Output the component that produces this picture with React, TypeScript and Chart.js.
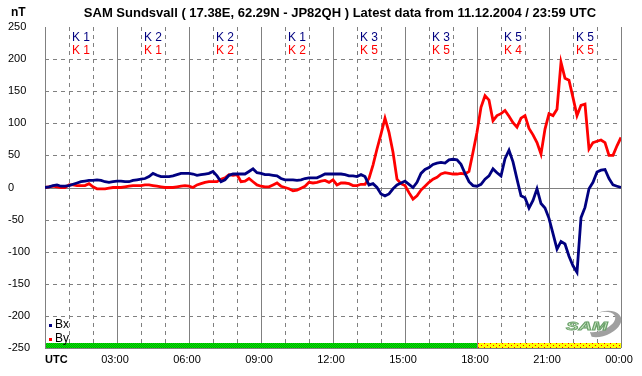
import React, { useEffect, useRef } from 'react';
import { Chart, registerables } from 'chart.js';

Chart.register(...registerables);

const TITLE = 'SAM Sundsvall ( 17.38E, 62.29N - JP82QH ) Latest data from 11.12.2004 / 23:59 UTC';
const Y_UNIT = 'nT';
const Y_MIN = -250;
const Y_MAX = 250;
const Y_STEP = 50;
const X_TICK_HOURS = [0, 3, 6, 9, 12, 15, 18, 21, 24];
const X_TICK_LABELS = ['UTC', '03:00', '06:00', '09:00', '12:00', '15:00', '18:00', '21:00', '00:00'];
const K_BX = ['K 1', 'K 2', 'K 2', 'K 1', 'K 3', 'K 3', 'K 5', 'K 5'];
const K_BY = ['K 1', 'K 1', 'K 2', 'K 2', 'K 5', 'K 5', 'K 4', 'K 5'];
const STATUS_START = [0, 18];
const STATUS_END = [18, 24];
const STATUS_KIND = ['final', 'preliminary'];
const SERIES_NAMES = ['Bx', 'By'];
const STEP_MINUTES = 10;

const BX = [
  0, 1, 3, 4, 2, 2, 3, 5, 7, 9,
  10, 11, 11, 12, 11, 9, 8, 9, 10, 10,
  9, 9, 11, 12, 13, 14, 17, 22, 19, 17,
  17, 17, 18, 20, 22, 22, 22, 21, 19, 20,
  21, 22, 25, 18, 9, 12, 19, 21, 21, 21,
  21, 25, 29, 23, 22, 20, 20, 19, 18, 14,
  12, 12, 12, 11, 12, 14, 15, 15, 15, 18,
  21, 21, 21, 21, 21, 20, 18, 18, 17, 20,
  17, 4, 6, 0, -10, -13, -10, -2, 4, 7,
  10, 5, 0, 8, 22, 28, 31, 36, 38, 39,
  38, 43, 44, 43, 36, 22, 9, 3, 2, 5,
  13, 18, 29, 23, 18, 45, 58, 40, 13, -13,
  -16, -32, -20, -2, -25, -32, -48, -72, -96, -84,
  -88, -107, -122, -132, -47, -31, -2, 8, 24, 27,
  28, 14, 4, 2, 0,
];

const BY = [
  0, 1, 2, 1, 0, 0, 4, 4, 3, 3,
  3, 6, 1, -2, -2, -2, -1, 0, 0, 0,
  1, 2, 3, 3, 3, 4, 4, 3, 2, 1,
  0, 0, 0, 1, 2, 3, 2, 0, 4, 6,
  8, 9, 9, 9, 13, 15, 20, 19, 20, 9,
  10, 14, 9, 4, 2, 1, 1, 4, 7, 2,
  0, -2, -5, -4, -1, 2, 8, 7, 8, 10,
  11, 8, 12, 4, 7, 7, 6, 3, 3, 5,
  5, 14, 35, 60, 83, 108, 86, 55, 13, 6,
  3, -8, -18, -13, -4, 2, 8, 13, 16, 21,
  23, 22, 21, 21, 22, 21, 25, 55, 86, 125,
  143, 136, 104, 112, 115, 120, 111, 101, 94, 108,
  112, 92, 82, 70, 52, 91, 115, 112, 122, 195,
  170, 167, 140, 112, 128, 130, 60, 70, 72, 74,
  70, 50, 50, 65, 78,
];

const COLORS = ['#000080', '#ff0000'];
const FONT = '"Liberation Sans", Arial, sans-serif';

function makePattern(ctx: CanvasRenderingContext2D, kind: string) {
  const c = document.createElement('canvas');
  if (kind === 'final') {
    c.width = 2; c.height = 2;
    const p = c.getContext('2d')!;
    p.fillStyle = '#00f000'; p.fillRect(0, 0, 2, 2);
    p.fillStyle = '#00a000'; p.fillRect(0, 0, 1, 1); p.fillRect(1, 1, 1, 1);
  } else {
    c.width = 6; c.height = 4;
    const p = c.getContext('2d')!;
    p.fillStyle = '#ffff00'; p.fillRect(0, 0, 6, 4);
    p.fillStyle = '#ff0000'; p.fillRect(1, 1, 1, 1); p.fillRect(4, 3, 1, 1);
  }
  return ctx.createPattern(c, 'repeat')!;
}

const overlay = {
  id: 'overlay',
  beforeDatasetsDraw(chart: any) {
    const { ctx, chartArea: a, scales } = chart;
    const x = scales.x; const y = scales.y;
    ctx.save();
    ctx.strokeStyle = '#808080';
    ctx.lineWidth = 1;
    for (let h = 0; h <= 24; h++) {
      const px = Math.round(x.getPixelForValue(h)) + 0.5;
      ctx.setLineDash(h % 3 === 0 ? [] : [4, 4]);
      ctx.beginPath(); ctx.moveTo(px, a.top); ctx.lineTo(px, a.bottom); ctx.stroke();
    }
    for (let v = Y_MIN; v < Y_MAX; v += Y_STEP) {
      const py = Math.round(y.getPixelForValue(v)) + 0.5;
      ctx.setLineDash(v === 0 || v === Y_MIN ? [] : [4, 4]);
      ctx.beginPath(); ctx.moveTo(a.left, py); ctx.lineTo(a.right, py); ctx.stroke();
    }
    ctx.restore();
  },
  afterDatasetsDraw(chart: any) {
    const { ctx, chartArea: a, scales } = chart;
    const x = scales.x; const y = scales.y;
    ctx.save();
    // status bar
    const yb = Math.round(y.getPixelForValue(Y_MIN));
    for (let i = 0; i < STATUS_START.length; i++) {
      const x0 = Math.round(x.getPixelForValue(STATUS_START[i])) + 1;
      const x1 = Math.round(x.getPixelForValue(STATUS_END[i]));
      ctx.fillStyle = makePattern(ctx, STATUS_KIND[i]);
      ctx.fillRect(x0, yb - 5, x1 - x0, 5);
    }
    // K indices
    ctx.font = `12px ${FONT}`;
    ctx.textAlign = 'center';
    ctx.textBaseline = 'middle';
    for (let i = 0; i < K_BX.length; i++) {
      const cx = x.getPixelForValue(i * 3 + 1.5);
      ctx.fillStyle = COLORS[0];
      ctx.fillText(K_BX[i], cx, a.top + 11);
      ctx.fillStyle = COLORS[1];
      ctx.fillText(K_BY[i], cx, a.top + 24);
    }
    // legend
    ctx.font = `12px ${FONT}`;
    ctx.textAlign = 'left';
    for (let i = 0; i < SERIES_NAMES.length; i++) {
      const ly = yb - 23 + i * 14;
      ctx.fillStyle = COLORS[i];
      ctx.fillRect(a.left + 4, ly - 1, 3, 3);
      ctx.fillStyle = '#000';
      ctx.fillText(SERIES_NAMES[i], a.left + 10, ly);
    }
    // logo
    const lx = a.right - 55; const ly = yb - 25;
    ctx.fillStyle = '#a0a0a0';
    ctx.beginPath();
    ctx.ellipse(lx + 36, ly + 1, 20, 12, -0.35, Math.PI * 1.55, Math.PI * 0.75, false);
    ctx.ellipse(lx + 33, ly - 1, 17, 9, -0.35, Math.PI * 0.75, Math.PI * 1.55, true);
    ctx.closePath();
    ctx.fill();
    ctx.save();
    ctx.translate(lx, ly + 4);
    ctx.scale(1.7, 1);
    ctx.font = `italic bold 11px ${FONT}`;
    ctx.lineWidth = 0.8;
    ctx.strokeStyle = '#6aa06a';
    ctx.fillStyle = '#d0ecc8';
    ctx.fillText('SAM', 0, 0);
    ctx.strokeText('SAM', 0, 0);
    ctx.restore();
    ctx.restore();
  },
  afterDraw(chart: any) {
    const { ctx, chartArea: a, scales } = chart;
    const x = scales.x;
    ctx.save();
    ctx.fillStyle = '#000';
    ctx.textBaseline = 'middle';
    ctx.font = `bold 13px ${FONT}`;
    ctx.textAlign = 'center';
    ctx.fillText(TITLE, 340, 13);
    ctx.font = `bold 12px ${FONT}`;
    ctx.textAlign = 'left';
    ctx.fillText(Y_UNIT, 11, 13);
    for (let i = 0; i < X_TICK_HOURS.length; i++) {
      const px = x.getPixelForValue(X_TICK_HOURS[i]);
      if (i === 0) {
        ctx.font = `bold 11px ${FONT}`;
        ctx.textAlign = 'left';
        ctx.fillText(X_TICK_LABELS[i], a.left, a.bottom + 12);
      } else {
        ctx.font = `11px ${FONT}`;
        ctx.textAlign = 'center';
        ctx.fillText(X_TICK_LABELS[i], px - 2, a.bottom + 12);
      }
    }
    ctx.restore();
  },
};

export default function App() {
  const ref = useRef<HTMLCanvasElement>(null);
  useEffect(() => {
    const times = BX.map((_, i) => (i * STEP_MINUTES) / 60);
    const chart = new Chart(ref.current!, {
      type: 'line',
      data: {
        datasets: [
          { label: SERIES_NAMES[0], data: BX.map((v, i) => ({ x: times[i], y: v })), borderColor: COLORS[0], borderWidth: 2.8, pointRadius: 0, tension: 0 },
          { label: SERIES_NAMES[1], data: BY.map((v, i) => ({ x: times[i], y: v })), borderColor: COLORS[1], borderWidth: 2.8, pointRadius: 0, tension: 0 },
        ],
      },
      options: {
        responsive: false,
        animation: false,
        devicePixelRatio: 1,
        layout: { padding: { left: 8, right: 21, top: 27, bottom: 28 } },
        plugins: { legend: { display: false }, title: { display: false }, tooltip: { enabled: false } },
        scales: {
          x: { type: 'linear', min: 0, max: 24, display: false },
          y: {
            min: Y_MIN, max: Y_MAX,
            grid: { display: false },
            border: { display: false },
            ticks: { stepSize: Y_STEP, crossAlign: 'far', color: '#000', font: { family: FONT, size: 11 } },
            afterFit: (s: any) => { s.width = 37; },
          },
        },
      },
      plugins: [overlay],
    });
    return () => chart.destroy();
  }, []);
  return (
    <div style={{ position: 'fixed', left: 0, top: 0, width: 642, height: 376, background: '#fff' }}>
      <canvas ref={ref} width={642} height={376} style={{ width: 642, height: 376 }} />
    </div>
  );
}
